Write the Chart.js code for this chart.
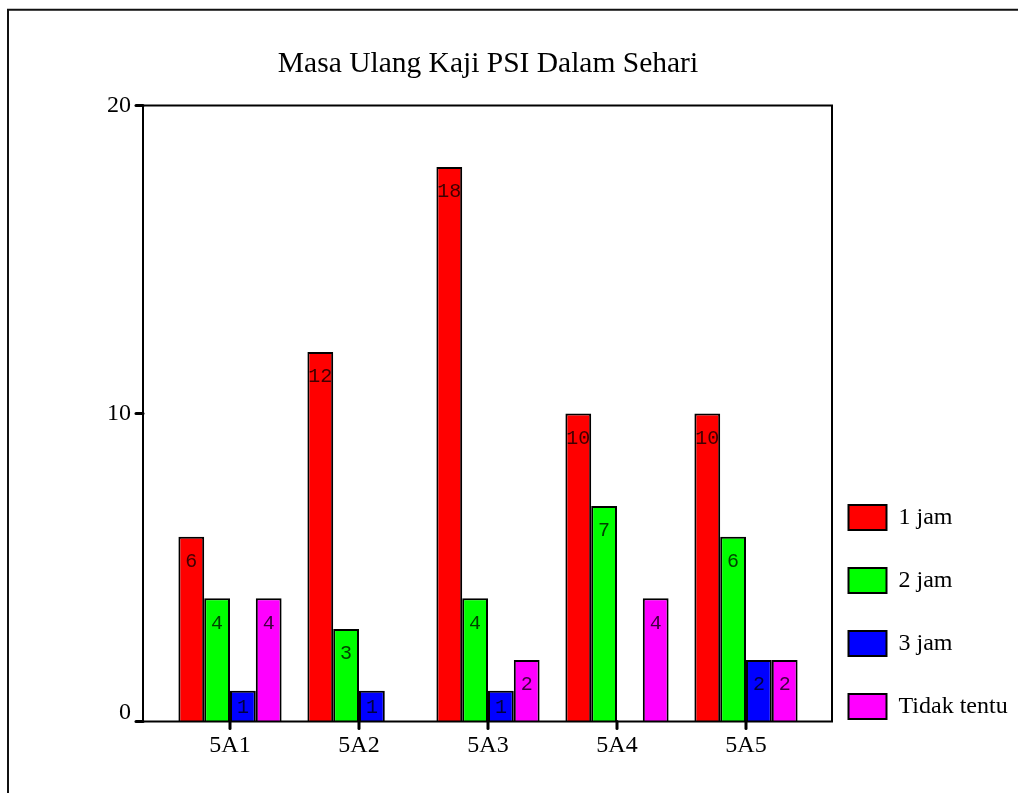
<!DOCTYPE html>
<html>
<head>
<meta charset="utf-8">
<script src="https://cdn.jsdelivr.net/npm/chart.js@4.4.1/dist/chart.umd.min.js"></script>
<style>
  body { margin: 0; background: #fff; }
  #wrap { width: 1018px; height: 793px; }
</style>
</head>
<body>
<div id="wrap"><canvas id="chart" width="1018" height="793"></canvas></div>
<script>
// data
const categories = ['5A1', '5A2', '5A3', '5A4', '5A5'];
const seriesNames = ['1 jam', '2 jam', '3 jam', 'Tidak tentu'];
const jam1 = [6, 12, 18, 10, 10];
const jam2 = [4, 3, 4, 7, 6];
const jam3 = [1, 1, 1, null, 2];
const tidakTentu = [4, null, 2, 4, 2];
const yTicks = [0, 10, 20];

const colors = ['#ff0000', '#00ff00', '#0000ff', '#ff00ff'];
const serif = 'Liberation Serif';
const sidePad = 22; // frame sticks out past the category band
const plotRight = 810.5;

// white page, outer border, plot frame, tick dots and bar numbers
const framePlugin = {
  id: 'frame',
  beforeDraw(chart) {
    const c = chart.ctx;
    c.save();
    c.fillStyle = '#fff';
    c.fillRect(0, 0, chart.width, chart.height);
    c.strokeStyle = '#111';
    c.lineWidth = 2;
    c.beginPath();
    c.moveTo(8, chart.height);
    c.lineTo(8, 9.7);
    c.lineTo(chart.width, 9.7);
    c.stroke();
    c.restore();
  },
  afterDatasetsDraw(chart) {
    const c = chart.ctx;
    const a = chart.chartArea;
    const yS = chart.scales.y;
    const xS = chart.scales.x;
    const left = a.left - sidePad - 0.5;
    const right = a.right + sidePad - 0.5;
    c.save();
    c.strokeStyle = '#000';
    c.lineWidth = 2;
    c.strokeRect(left, a.top, right - left, a.bottom - a.top);

    // tick dots
    c.lineWidth = 3;
    c.lineCap = 'round';
    yS.ticks.forEach(t => {
      const y = yS.getPixelForValue(t.value);
      c.beginPath();
      c.moveTo(left - 7, y);
      c.lineTo(left, y);
      c.stroke();
    });
    categories.forEach((cat, i) => {
      const x = xS.getPixelForValue(i);
      c.beginPath();
      c.moveTo(x, a.bottom);
      c.lineTo(x, a.bottom + 7);
      c.stroke();
    });

    // numbers inside bars
    c.font = '20px "Liberation Mono", "DejaVu Sans Mono", monospace';
    c.fillStyle = 'rgba(0,0,0,0.75)';
    c.textAlign = 'center';
    c.textBaseline = 'middle';
    chart.data.datasets.forEach((ds, di) => {
      const meta = chart.getDatasetMeta(di);
      meta.data.forEach((bar, i) => {
        const v = ds.data[i];
        if (v === null || v === undefined) return;
        const y = Math.min(bar.y + 25, bar.base - 13.5);
        c.fillText(String(v), bar.x, y);
      });
    });
    c.restore();
  }
};

const seriesData = [jam1, jam2, jam3, tidakTentu];

const ctx = document.getElementById('chart').getContext('2d');

// legend width is padding + box + gap + text + 10, so size the right padding from it
ctx.font = '24px "' + serif + '"';
const maxText = Math.max(...seriesNames.map(s => ctx.measureText(s).width));
const legendWidth = 38 + 38 + 12 + maxText + 10;
const padRight = 1018 - plotRight - legendWidth;

new Chart(ctx, {
  type: 'bar',
  data: {
    labels: categories,
    datasets: seriesNames.map((name, i) => ({
      label: name,
      data: seriesData[i],
      backgroundColor: colors[i],
      borderColor: '#000',
      borderWidth: { top: 2, left: 2, right: 2, bottom: 0 },
      borderSkipped: 'start',
      categoryPercentage: 0.8,
      barPercentage: 1.0
    }))
  },
  options: {
    responsive: false,
    animation: false,
    layout: { padding: { left: 0, top: 0, right: padRight, bottom: 36 } },
    plugins: {
      title: {
        display: true,
        text: 'Masa Ulang Kaji PSI Dalam Sehari',
        fullSize: false,
        color: '#000',
        font: { family: serif, size: 29.5, weight: 'normal', lineHeight: 1.2 },
        padding: { top: 47, bottom: 23.1 }
      },
      legend: {
        position: 'right',
        align: 'end',
        labels: {
          color: '#000',
          boxWidth: 38,
          boxHeight: 25,
          padding: 38,
          font: { family: serif, size: 24 },
          generateLabels(chart) {
            return Chart.defaults.plugins.legend.labels.generateLabels(chart)
              .map(item => Object.assign(item, { lineWidth: 2, strokeStyle: '#000' }));
          }
        }
      },
      tooltip: { enabled: false }
    },
    scales: {
      x: {
        offset: true,
        grid: { display: false, drawTicks: false },
        border: { display: false },
        ticks: {
          color: '#000',
          padding: 10,
          font: { family: serif, size: 24 }
        },
        afterFit(scale) { scale.height = 35.5; }
      },
      y: {
        min: 0,
        max: 20,
        grid: { display: false, drawTicks: false },
        border: { display: false },
        afterBuildTicks(scale) {
          scale.ticks = yTicks.map(v => ({ value: v }));
        },
        ticks: {
          color: '#000',
          padding: 34.5,
          font: { family: serif, size: 24, lineHeight: 0.75 },
          callback: v => (v === 0 ? ['0', ''] : String(v))
        },
        afterFit(scale) { scale.width = 165.5; }
      }
    }
  },
  plugins: [framePlugin]
});
</script>
</body>
</html>
